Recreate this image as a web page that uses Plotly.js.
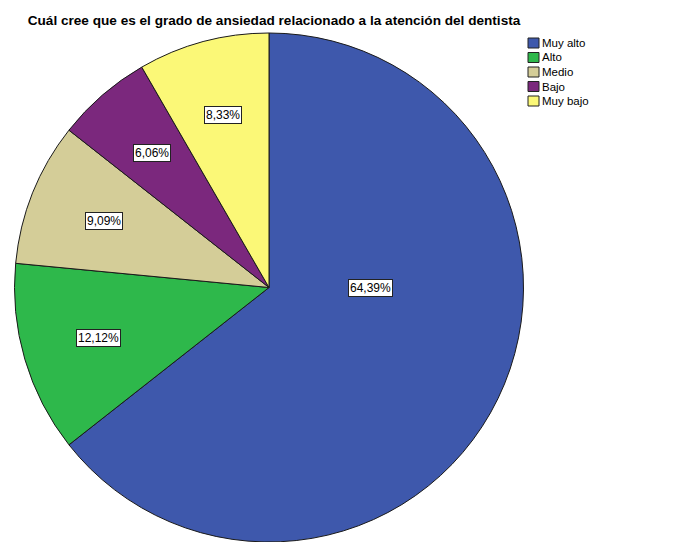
<!DOCTYPE html>
<html>
<head>
<meta charset="utf-8">
<script src="https://cdn.plot.ly/plotly-3.0.1.min.js"></script>
<style>html,body{margin:0;padding:0;background:#fff;}#chart{width:675px;height:542px;}</style>
</head>
<body>
<div id="chart"></div>
<script>
// ---- data ----
var categories = ["Muy alto", "Alto", "Medio", "Bajo", "Muy bajo"];
var counts = [85, 16, 12, 8, 11];
var colors = ["#3E58AC", "#2EB84B", "#D4CD98", "#7B287D", "#FBF877"];
var titleText = "Cuál cree que es el grado de ansiedad relacionado a la atención del dentista";

// ---- layout geometry ----
var W = 675, H = 542;
var dom = {x: [14 / W, 524 / W], y: [0, 1 - 33 / H]};
var rPx = Math.min((dom.x[1] - dom.x[0]) * W, (dom.y[1] - dom.y[0]) * H) / 2;
var cxPx = (dom.x[0] + dom.x[1]) / 2 * W;
var cyPx = (1 - (dom.y[0] + dom.y[1]) / 2) * H;

var total = counts.reduce(function (a, b) { return a + b; }, 0);
var pctText = counts.map(function (v) {
  return (v / total * 100).toFixed(2).replace('.', ',') + '%';
});

// label annotations placed from slice angles (clockwise from 12 o'clock)
var annotations = [];
var start = 0;
counts.forEach(function (v, i) {
  var span = v / total * 360;
  var end = start + span;
  var ang, f;
  if (span > 180) {
    ang = (start + Math.min(end, 180)) / 2; f = 0.4;
  } else {
    ang = (start + end) / 2; f = 0.7;
  }
  var a = ang * Math.PI / 180;
  var px = cxPx + rPx * f * Math.sin(a);
  var py = cyPx - rPx * f * Math.cos(a);
  annotations.push({
    x: px / W, y: 1 - py / H, xref: 'paper', yref: 'paper',
    text: pctText[i], showarrow: false,
    font: {family: 'Liberation Sans, Arial, sans-serif', size: 12, color: '#000'},
    bgcolor: '#ffffff', bordercolor: '#222', borderwidth: 1, borderpad: 1,
    xanchor: 'center', yanchor: 'middle'
  });
  start = end;
});

// custom legend
var shapes = [];
var legX = 528, legY0 = 43, legStep = 14.5;
categories.forEach(function (c, i) {
  var yc = legY0 + legStep * i;
  shapes.push({
    type: 'rect', xref: 'paper', yref: 'paper',
    x0: legX / W, x1: (legX + 11) / W,
    y0: 1 - (yc + 5) / H, y1: 1 - (yc - 5) / H,
    fillcolor: colors[i], line: {color: '#222', width: 1}
  });
  annotations.push({
    x: (legX + 12) / W, y: 1 - yc / H, xref: 'paper', yref: 'paper',
    text: c, showarrow: false, xanchor: 'left', yanchor: 'middle',
    font: {family: 'Liberation Sans, Arial, sans-serif', size: 11.5, color: '#000'}
  });
});

var trace = {
  type: 'pie',
  labels: categories,
  values: counts,
  sort: false,
  direction: 'clockwise',
  rotation: 0,
  textinfo: 'none',
  hoverinfo: 'label+percent',
  marker: {colors: colors, line: {color: '#1a1a1a', width: 1}},
  domain: dom
};

var layout = {
  width: W, height: H,
  margin: {l: 0, r: 0, t: 0, b: 0},
  showlegend: false,
  paper_bgcolor: '#fff',
  title: {
    text: '<b>' + titleText + '</b>',
    x: 274 / W, xanchor: 'center', xref: 'paper',
    y: 1 - 20 / H, yanchor: 'middle', yref: 'paper',
    font: {family: 'Liberation Sans, Arial, sans-serif', size: 13.6, color: '#000'}
  },
  annotations: annotations,
  shapes: shapes
};

Plotly.newPlot('chart', [trace], layout, {displayModeBar: false, staticPlot: true});
</script>
</body>
</html>
